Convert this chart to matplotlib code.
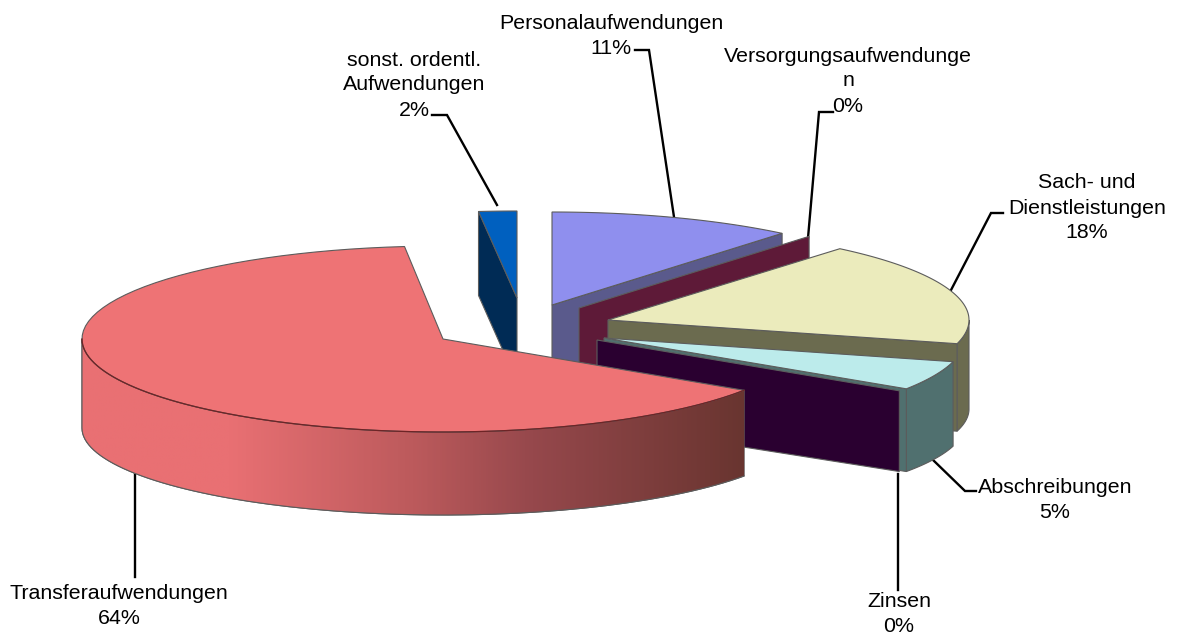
import numpy as np
import matplotlib
matplotlib.use('Agg')
import matplotlib.pyplot as plt
from matplotlib.colors import LinearSegmentedColormap
from matplotlib.patches import Polygon

plt.rcParams['font.family'] = ['Liberation Sans', 'DejaVu Sans']

# shares in percent, clockwise from the top of the pie
categories = ['Personalaufwendungen', 'Versorgungsaufwendunge\nn', 'Sach- und\nDienstleistungen',
              'Abschreibungen', 'Zinsen', 'Transferaufwendungen', 'sonst. ordentl.\nAufwendungen']
values = [11.0, 0.1, 18.0, 5.1, 0.1, 64.0, 1.7]

# look of the slices
centers = [(552, 305), (579, 308), (608, 320), (604, 338), (597, 340), (443, 339), (517, 298)]
depths = [88, 88, 89, 86, 84, 89, 84]
top_ry = [93, 93, 93, 93, 93, 93, 87]
top_colors = ['#8f8fee', '#5e1a38', '#ebebbc', '#bcebeb', '#2a0030', '#ee7375', '#0060bf']
wall_colors = ['#5a5a8c', '#5e1a38', '#6b6b4f', '#50706f', '#2a0030', '#e97073', '#002b55']
label_pos = [(611, 36), (848, 81), (1087, 208), (1055, 500), (899, 614), (119, 606), (414, 85)]
leaders = [[(674, 217), (649, 50), (635, 50)],
           [(808, 238), (819, 112), (833, 112)],
           [(950, 292), (991, 213), (1003, 213)],
           [(932, 459), (965, 491), (976, 491)],
           [(898, 474), (898, 590)],
           [(135, 470), (135, 577)],
           [(497, 205), (447, 115), (432, 115)]]

RX = 361
RY_BOTTOM = 87
EDGE = '#5c5c5c'


def top_arc(c, ry, a1, a2):
    t = np.radians(np.linspace(a1, a2, 80))
    return np.column_stack([c[0] + RX * np.sin(t), c[1] - ry * np.cos(t)])


def bottom_arc(c, d, a1, a2):
    t = np.radians(np.linspace(a1, a2, 80))
    return np.column_stack([c[0] + RX * np.sin(t), c[1] + d - RY_BOTTOM * np.cos(t)])


def shape(pts, color, z, edge=EDGE):
    p = Polygon(pts, closed=True, facecolor=color, edgecolor=edge, linewidth=0.8, zorder=z)
    ax.add_patch(p)
    return p


fig = plt.figure(figsize=(11.77, 6.34), dpi=100)
ax = fig.add_axes([0, 0, 1, 1])

ends = np.cumsum(values) / np.sum(values) * 360
starts = np.concatenate([[0], ends[:-1]])

# paint order is back to front
order = [6, 0, 1, 2, 3, 4, 5]
for z, i in enumerate(order):
    c, d, ry = centers[i], depths[i], top_ry[i]
    a1, a2 = starts[i], ends[i]
    base = 10 + z * 3
    thin = values[i] < 1
    big = categories[i] == 'Transferaufwendungen'

    # outer wall, only where it faces the viewer
    w1, w2 = max(a1, 90), min(a2, 270)
    if w2 > w1 and not thin:
        wall = np.vstack([top_arc(c, ry, w1, w2), bottom_arc(c, d, w2, w1)])
        p = shape(wall, wall_colors[i], base)
        if big:
            cmap = LinearSegmentedColormap.from_list(
                'side', [(0, '#e97073'), (0.22, '#e97073'), (0.5, '#bc5a5c'),
                         (0.68, '#96484c'), (1, '#693530')])
            im = ax.imshow(np.linspace(0, 1, 400)[None, :], cmap=cmap, aspect='auto',
                           extent=(c[0] - RX, 745, 520, 330), zorder=base + 0.5)
            im.set_clip_path(p)
            ax.plot(wall[:, 0], wall[:, 1], color=EDGE, lw=0.8, zorder=base + 0.6)

    # flat cut wall, the one side that can be seen
    if not big:
        a = a2 if (not thin and a2 < 180) else a1
        rim = top_arc(c, ry, a, a)[0]
        bot = bottom_arc(c, d, a, a)[0]
        shape([c, rim, bot, (c[0], c[1] + d)], wall_colors[i], base + 1)

    # top face
    if not thin:
        shape(np.vstack([[c], top_arc(c, ry, a1, a2)]), top_colors[i], base + 2)

# darker rim in front of the big slice
front = top_arc(centers[5], top_ry[5], max(starts[5], 90), 270)
ax.plot(front[:, 0], front[:, 1], color='#6e2426', lw=0.9, zorder=40)

for xy in leaders:
    xy = np.array(xy)
    ax.plot(xy[:, 0], xy[:, 1], color='black', lw=1.7, solid_joinstyle='miter', zorder=5)

for name, v, pos in zip(categories, values, label_pos):
    ax.text(pos[0], pos[1], f'{name}\n{round(v)}%', ha='center', va='center',
            fontsize=15.4, linespacing=1.4, color='black', zorder=50)

ax.set_xlim(0, 1177)
ax.set_ylim(634, 0)
ax.axis('off')
fig.savefig('out.png', dpi=100)
